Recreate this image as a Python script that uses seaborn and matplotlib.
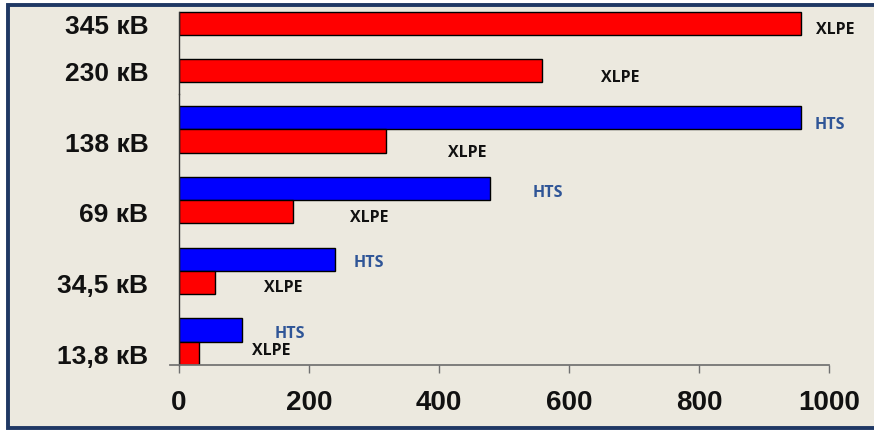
import numpy as np
import pandas as pd
import seaborn as sns
import matplotlib.pyplot as plt
from matplotlib.patches import Rectangle

# данные (длина кабеля / мощность, оценка по рисунку)
voltages = ['345 кВ', '230 кВ', '138 кВ', '69 кВ', '34,5 кВ', '13,8 кВ']
xlpe_vals = [957, 558, 318, 176, 55, 30]
hts_vals = [np.nan, np.nan, 957, 478, 240, 97]
cables = ['HTS', 'XLPE']

df = pd.DataFrame({
    'voltage': voltages * 2,
    'cable': ['HTS'] * len(voltages) + ['XLPE'] * len(voltages),
    'value': hts_vals + xlpe_vals,
})
has_hts = df[df.cable == 'HTS'].dropna().voltage.tolist()
top_volts = [v for v in voltages if v not in has_hts]
low_volts = [v for v in voltages if v in has_hts]
df_top = df[(df.voltage.isin(top_volts)) & (df.cable == 'XLPE')]
df_low = df[df.voltage.isin(low_volts)]

sns.set_theme(style='white')
plt.rcParams['font.family'] = ['Liberation Sans', 'DejaVu Sans']

W, H = 874, 431
fig = plt.figure(figsize=(W / 100, H / 100), dpi=100, facecolor='white')

# рамка и фон
fig.patches.append(Rectangle((8 / W, 2 / H), (890 - 8) / W, (431 - 8) / H,
                             transform=fig.transFigure, facecolor='#ECE9DF',
                             edgecolor='#1F3864', linewidth=2.8, zorder=-5))


def px_axes(left, top, right, bottom):
    return fig.add_axes([left / W, 1 - bottom / H, (right - left) / W, (bottom - top) / H])


ax_top = px_axes(179, 1, 829, 95)
ax_low = px_axes(179, 95, 829, 366)
colors = {'HTS': '#0000FF', 'XLPE': '#FF0000'}
bar_w = 0.66

sns.barplot(data=df_top, x='value', y='voltage', order=top_volts, color=colors['XLPE'],
            saturation=1, width=0.5, edgecolor='black', linewidth=1.0, ax=ax_top)
sns.barplot(data=df_low, x='value', y='voltage', order=low_volts, hue='cable',
            hue_order=cables, palette=colors, saturation=1, width=bar_w,
            edgecolor='black', linewidth=1.0, legend=False, ax=ax_low)

for ax in (ax_top, ax_low):
    ax.set_facecolor('none')
    ax.set_xlim(0, 1000)
    ax.set_xlabel('')
    ax.set_ylabel('')
    for s in ('top', 'right'):
        ax.spines[s].set_visible(False)
    ax.spines['left'].set_color('#333333')
    ax.spines['left'].set_linewidth(1.0)
    ax.tick_params(axis='y', length=0, pad=22, labelsize=19)

ax_top.set_ylim(1.5, -0.5)
ax_top.spines['left'].set_bounds(-0.25, 1.5)
ax_top.spines['bottom'].set_visible(False)
ax_top.tick_params(axis='x', bottom=False, labelbottom=False)

ax_low.set_ylim(len(low_volts) - 1 + bar_w / 2, -0.5)
ax_low.set_yticks(np.arange(len(low_volts)) + bar_w / 4, low_volts)
ax_low.set_xticks(np.arange(0, 1001, 200))
ax_low.spines['bottom'].set_color('#707070')
ax_low.spines['bottom'].set_bounds(-14, 1000)
ax_low.tick_params(axis='x', bottom=True, length=6, width=1, color='#707070',
                   pad=11, labelsize=20)

for ax in (ax_top, ax_low):
    for lab in ax.get_yticklabels() + ax.get_xticklabels():
        lab.set_fontweight('bold')
        lab.set_color('#111111')

# подписи XLPE / HTS (смещение в пикселях от конца столбца)
label_offsets = {
    ('345 кВ', 'XLPE'): (15, 5), ('230 кВ', 'XLPE'): (59, 6),
    ('138 кВ', 'HTS'): (14, 6), ('138 кВ', 'XLPE'): (62, 11),
    ('69 кВ', 'HTS'): (43, 4), ('69 кВ', 'XLPE'): (57, 5),
    ('34,5 кВ', 'HTS'): (19, 3), ('34,5 кВ', 'XLPE'): (49, 4),
    ('13,8 кВ', 'HTS'): (33, 3), ('13,8 кВ', 'XLPE'): (53, -3),
}
text_colors = {'HTS': '#2F5597', 'XLPE': '#111111'}


def put_labels(ax, container, volts, cable):
    for bar, v in zip(container, volts):
        dx, dy = label_offsets[(v, cable)]
        ax.annotate(cable, xy=(bar.get_width(), bar.get_y() + bar.get_height() / 2),
                    xytext=(dx, -dy), textcoords='offset pixels', ha='left', va='center',
                    fontsize=11.5, fontweight='bold', color=text_colors[cable],
                    family=['Open Sans', 'DejaVu Sans'])


put_labels(ax_top, ax_top.containers[0], top_volts, 'XLPE')
for cont, cable in zip(ax_low.containers, cables):
    put_labels(ax_low, cont, low_volts, cable)

fig.savefig('out.png', dpi=100)
